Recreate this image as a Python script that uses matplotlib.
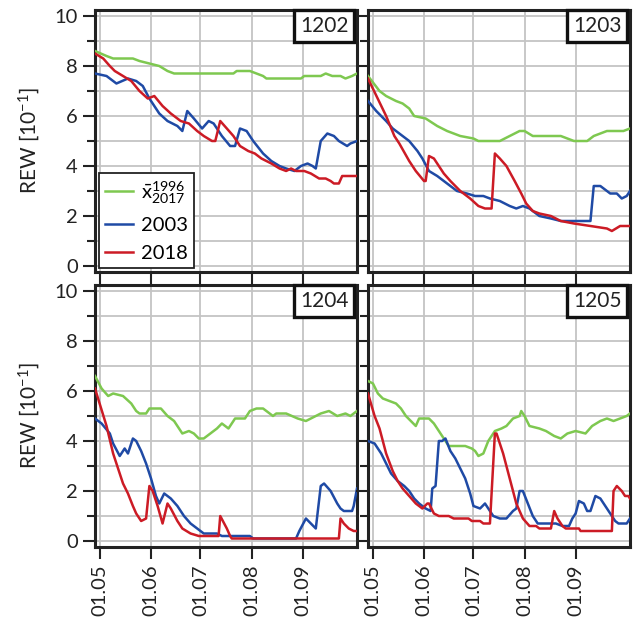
import numpy as np
import matplotlib
matplotlib.use("Agg")
import matplotlib.pyplot as plt
import matplotlib.dates as mdates
from matplotlib.ticker import MultipleLocator

plt.rcParams['font.family'] = ['Lato', 'DejaVu Sans']
plt.rcParams['mathtext.fontset'] = 'custom'
plt.rcParams['mathtext.rm'] = 'Lato'
plt.rcParams['mathtext.it'] = 'Lato'
plt.rcParams['mathtext.bf'] = 'Lato'

# REW values [10^-1]; (day offset from 01.05, value)
stations = ["1202", "1203", "1204", "1205"]

mean_1202 = [(-3, 8.6), (4, 8.4), (8, 8.3), (20, 8.3), (24, 8.2), (30, 8.1), (36, 8.0), (41, 7.8),
             (45, 7.7), (81, 7.7), (83, 7.8), (91, 7.8), (95, 7.7), (99, 7.6), (101, 7.5), (122, 7.5),
             (124, 7.6), (134, 7.6), (137, 7.7), (141, 7.6), (146, 7.6), (149, 7.5), (153, 7.6), (156, 7.7)]
y2003_1202 = [(-3, 7.7), (4, 7.6), (8, 7.4), (10, 7.3), (17, 7.5), (22, 7.4), (26, 7.2), (30, 6.7),
              (36, 6.1), (41, 5.8), (47, 5.6), (50, 5.4), (53, 6.2), (57, 5.9), (62, 5.5), (66, 5.8),
              (69, 5.7), (74, 5.2), (79, 4.8), (82, 4.8), (85, 5.5), (89, 5.4), (93, 5.0), (99, 4.5),
              (104, 4.2), (109, 4.0), (113, 3.9), (118, 3.8), (122, 4.0), (126, 4.1), (129, 4.0),
              (131, 3.9), (134, 5.0), (138, 5.3), (142, 5.2), (145, 5.0), (150, 4.8), (152, 4.9), (156, 5.0)]
y2018_1202 = [(-3, 8.5), (2, 8.3), (6, 8.0), (9, 7.8), (14, 7.6), (19, 7.4), (24, 7.0), (29, 6.7),
              (33, 6.8), (38, 6.4), (43, 6.1), (49, 5.8), (54, 5.7), (59, 5.4), (63, 5.2), (68, 5.0),
              (70, 5.0), (73, 5.8), (77, 5.5), (81, 5.2), (85, 4.8), (90, 4.6), (94, 4.5), (98, 4.3),
              (101, 4.2), (104, 4.1), (109, 3.9), (113, 3.8), (116, 3.9), (119, 3.8), (124, 3.8),
              (128, 3.7), (133, 3.5), (137, 3.5), (140, 3.4), (142, 3.3), (145, 3.3), (147, 3.6), (156, 3.6)]

mean_1203 = [(-3, 7.6), (4, 7.0), (8, 6.8), (14, 6.6), (18, 6.5), (22, 6.3), (25, 6.0), (32, 5.9),
             (39, 5.6), (45, 5.4), (53, 5.2), (61, 5.1), (64, 5.0), (77, 5.0), (83, 5.2), (89, 5.4),
             (92, 5.4), (97, 5.2), (114, 5.2), (118, 5.1), (122, 5.0), (130, 5.0), (134, 5.2),
             (142, 5.4), (152, 5.4), (156, 5.5)]
y2003_1203 = [(-3, 6.6), (2, 6.2), (8, 5.8), (12, 5.5), (18, 5.2), (22, 5.0), (27, 4.6), (30, 4.3),
              (34, 3.8), (39, 3.6), (45, 3.3), (51, 3.0), (57, 2.9), (62, 2.8), (67, 2.8), (71, 2.7),
              (77, 2.6), (83, 2.4), (87, 2.3), (91, 2.4), (95, 2.3), (101, 2.0), (108, 1.9), (114, 1.8),
              (132, 1.8), (134, 3.2), (138, 3.2), (144, 2.9), (148, 2.9), (151, 2.7), (154, 2.8), (156, 3.0)]
y2018_1203 = [(-3, 7.5), (8, 6.0), (13, 5.2), (16, 4.9), (22, 4.2), (26, 3.8), (31, 3.4), (32, 3.4),
              (34, 4.4), (37, 4.3), (43, 3.7), (47, 3.4), (53, 3.0), (59, 2.7), (64, 2.4), (68, 2.3),
              (72, 2.3), (74, 4.5), (77, 4.3), (81, 4.0), (86, 3.4), (90, 2.9), (93, 2.5), (97, 2.2),
              (101, 2.1), (108, 2.0), (114, 1.8), (122, 1.7), (132, 1.6), (142, 1.5), (145, 1.4),
              (150, 1.6), (156, 1.6)]

mean_1204 = [(-3, 6.6), (1, 6.1), (5, 5.8), (8, 5.9), (14, 5.8), (19, 5.5), (22, 5.2), (24, 5.1),
             (28, 5.1), (30, 5.3), (37, 5.3), (41, 5.0), (45, 4.8), (48, 4.5), (50, 4.3), (54, 4.4),
             (57, 4.3), (60, 4.1), (63, 4.1), (67, 4.3), (71, 4.5), (74, 4.7), (78, 4.5), (82, 4.9),
             (88, 4.9), (91, 5.2), (95, 5.3), (99, 5.3), (103, 5.1), (105, 5.0), (107, 5.1), (113, 5.1),
             (120, 4.9), (125, 4.8), (128, 4.9), (134, 5.1), (139, 5.2), (144, 5.0), (149, 5.1),
             (152, 5.0), (156, 5.2)]
y2003_1204 = [(-3, 4.9), (1, 4.7), (6, 4.3), (8, 3.9), (12, 3.4), (15, 3.7), (17, 3.5), (20, 4.1),
              (22, 4.0), (25, 3.6), (28, 3.1), (31, 2.5), (34, 1.8), (36, 1.5), (39, 1.9), (43, 1.7),
              (47, 1.4), (51, 1.0), (55, 0.7), (59, 0.5), (63, 0.3), (71, 0.3), (74, 0.2), (91, 0.2),
              (93, 0.1), (119, 0.1), (121, 0.4), (125, 0.9), (128, 0.7), (131, 0.5), (134, 2.2),
              (136, 2.3), (140, 2.0), (144, 1.5), (146, 1.3), (148, 1.2), (153, 1.2), (154, 1.4), (156, 2.1)]
y2018_1204 = [(-3, 6.1), (4, 4.6), (8, 3.5), (11, 2.9), (14, 2.3), (17, 1.9), (20, 1.4), (22, 1.1),
              (25, 0.8), (28, 0.9), (30, 2.2), (32, 2.0), (35, 1.4), (38, 0.7), (41, 1.5), (43, 1.3),
              (47, 0.8), (50, 0.5), (55, 0.3), (60, 0.2), (72, 0.2), (73, 1.0), (77, 0.5), (79, 0.2),
              (80, 0.1), (145, 0.1), (146, 0.9), (148, 0.7), (151, 0.5), (154, 0.4), (156, 0.4)]

mean_1205 = [(-3, 6.4), (0, 6.3), (3, 5.9), (6, 5.7), (10, 5.6), (14, 5.5), (17, 5.3), (20, 5.0),
             (23, 4.8), (26, 4.6), (28, 4.9), (34, 4.9), (37, 4.7), (40, 4.4), (43, 4.1), (46, 3.8),
             (56, 3.8), (60, 3.7), (62, 3.6), (64, 3.4), (67, 3.5), (70, 4.0), (74, 4.4), (78, 4.5),
             (81, 4.6), (85, 4.9), (89, 5.0), (90, 5.2), (92, 5.0), (95, 4.6), (101, 4.5), (105, 4.4),
             (110, 4.2), (114, 4.1), (118, 4.3), (123, 4.4), (129, 4.3), (133, 4.6), (138, 4.8),
             (142, 4.9), (146, 4.8), (150, 4.9), (154, 5.0), (156, 5.1)]
y2003_1205 = [(-3, 4.0), (1, 3.9), (5, 3.5), (8, 3.1), (11, 2.7), (15, 2.4), (19, 2.2), (22, 2.0),
              (25, 1.7), (28, 1.5), (32, 1.3), (35, 1.2), (36, 2.1), (38, 2.2), (40, 4.0), (42, 4.0),
              (44, 4.1), (47, 3.6), (50, 3.3), (53, 2.9), (56, 2.5), (59, 1.9), (61, 1.4), (65, 1.3),
              (68, 1.5), (70, 1.3), (73, 1.0), (77, 0.9), (81, 0.9), (85, 1.2), (87, 1.3), (89, 2.0),
              (91, 2.0), (94, 1.5), (97, 1.0), (100, 0.7), (111, 0.7), (115, 0.6), (119, 0.6),
              (121, 0.9), (123, 1.1), (125, 1.6), (128, 1.5), (130, 1.2), (132, 1.2), (135, 1.8),
              (138, 1.7), (141, 1.4), (143, 1.2), (147, 0.8), (149, 0.7), (154, 0.7), (156, 0.9)]
y2018_1205 = [(-3, 5.9), (1, 5.0), (4, 4.5), (8, 3.5), (12, 2.8), (15, 2.4), (18, 2.1), (22, 1.8),
              (26, 1.5), (30, 1.3), (33, 1.5), (34, 1.5), (37, 1.1), (40, 1.0), (46, 1.0), (49, 0.9),
              (58, 0.9), (60, 0.8), (65, 0.8), (67, 0.7), (71, 0.7), (74, 4.3), (75, 4.3), (79, 3.5),
              (83, 2.5), (87, 1.5), (91, 0.9), (95, 0.6), (99, 0.6), (101, 0.5), (108, 0.5), (110, 1.2),
              (112, 0.9), (115, 0.6), (117, 0.5), (125, 0.5), (126, 0.4), (145, 0.4), (146, 2.0),
              (148, 2.2), (151, 2.0), (153, 1.8), (155, 1.8), (156, 1.7)]

series = {
    "1202": (mean_1202, y2003_1202, y2018_1202),
    "1203": (mean_1203, y2003_1203, y2018_1203),
    "1204": (mean_1204, y2003_1204, y2018_1204),
    "1205": (mean_1205, y2003_1205, y2018_1205),
}
labels = [r"$\bar{\mathrm{x}}_{2017}^{1996}$", "2003", "2018"]
colors = ["#7ec850", "#1f4aa5", "#cc1b25"]

start = np.datetime64("2018-05-01")


def to_dates(pairs):
    d = np.array([p[0] for p in pairs])
    v = np.array([p[1] for p in pairs])
    return start + d.astype("timedelta64[D]"), v


fig = plt.figure(figsize=(6.33, 6.23), dpi=100)
W, H = 633, 623
boxes = [(95, 10), (368, 10), (95, 285), (368, 285)]
axes = []
for i, st in enumerate(stations):
    x0, y0 = boxes[i]
    ax = fig.add_axes([x0 / W, 1 - (y0 + 262) / H, 262 / W, 262 / H])
    axes.append(ax)
    for pairs, lab, col in zip(series[st], labels, colors):
        t, v = to_dates(pairs)
        ax.plot(t, v, color=col, lw=1.8, label=lab, zorder=3)

    ax.set_xlim(np.datetime64("2018-04-28"), np.datetime64("2018-10-04"))
    ax.set_ylim(-0.24, 10.24)
    ax.xaxis.set_major_locator(mdates.MonthLocator(bymonth=[5, 6, 7, 8, 9]))
    ax.xaxis.set_major_formatter(mdates.DateFormatter("%d.%m"))
    ax.yaxis.set_major_locator(MultipleLocator(2))
    ax.yaxis.set_minor_locator(MultipleLocator(1))
    ax.grid(True, which="major", axis="x", color="#c4c4c4", lw=1.3, zorder=0)
    ax.grid(True, which="both", axis="y", color="#c4c4c4", lw=1.3, zorder=0)
    ax.tick_params(which="major", direction="out", length=8.5, width=1.5, labelsize=14.5,
                   color="#222222", labelcolor="#222222", pad=4)
    ax.tick_params(which="minor", direction="out", length=6, width=1.5, color="#222222")
    for s in ax.spines.values():
        s.set_linewidth(2.2)
        s.set_color("#222222")

    ax.text(0.968, 0.978, st, transform=ax.transAxes, ha="right", va="top", fontsize=15,
            color="#222222",
            bbox=dict(boxstyle="square,pad=0.28", fc="white", ec="#111111", lw=2.4), zorder=5)

    if i % 2 == 0:
        ax.set_ylabel(r"REW [10$^{\mathregular{-1}}$]", fontsize=15, labelpad=9, color="#222222")
    else:
        ax.tick_params(axis="y", labelleft=False)
    if i < 2:
        ax.tick_params(axis="x", labelbottom=False)
    else:
        plt.setp(ax.get_xticklabels(), rotation=90)

leg = axes[0].legend(loc="lower left", fontsize=14.5, frameon=True, fancybox=False,
                     handlelength=1.4, borderaxespad=0.2, labelspacing=0.55,
                     handletextpad=0.4, borderpad=0.3)
leg.get_frame().set_edgecolor("#222222")
leg.get_frame().set_linewidth(1.3)
leg.get_frame().set_alpha(1)
leg.set_zorder(6)

fig.savefig("out.png", dpi=100)
